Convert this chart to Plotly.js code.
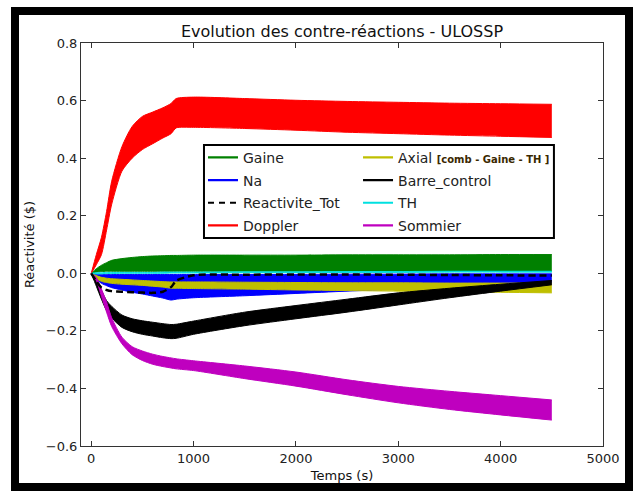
<!DOCTYPE html>
<html>
<head>
<meta charset="utf-8">
<script src="https://cdn.plot.ly/plotly-3.0.1.min.js"></script>
<style>
  html, body { margin: 0; padding: 0; background: #ffffff; }
  #wrap { position: relative; width: 633px; height: 491px; overflow: hidden; }
  #chart { position: absolute; left: 0; top: 0; width: 633px; height: 491px; }
  #frame { position: absolute; left: 11px; top: 7px; width: 622px; height: 484px;
           box-sizing: border-box; border: 8px solid #000; pointer-events: none; }
</style>
</head>
<body>
<div id="wrap">
  <div id="chart"></div>
  <div id="frame"></div>
</div>
<script>
// Time (s)
const t = [0, 50, 100, 150, 200, 300, 400, 500, 600, 700, 780, 830, 1000, 1500, 2000, 2500, 3000, 3500, 4000, 4500];

// Each series is drawn as an envelope of many runs: low / high edges
const gaineLo   = [0, 0.004, 0.006, 0.007, 0.007, 0.007, 0.007, 0.007, 0.007, 0.007, 0.007, 0.007, 0.007, 0.007, 0.007, 0.007, 0.007, 0.007, 0.007, 0.007];
const gaineHi   = [0, 0.016, 0.028, 0.037, 0.045, 0.051, 0.055, 0.058, 0.060, 0.061, 0.062, 0.062, 0.063, 0.063, 0.063, 0.064, 0.064, 0.064, 0.065, 0.065];

const naLo      = [0, -0.020, -0.035, -0.043, -0.050, -0.058, -0.066, -0.072, -0.079, -0.086, -0.093, -0.090, -0.085, -0.078, -0.070, -0.062, -0.055, -0.048, -0.042, -0.036];
const naHi      = [0, -0.003, -0.004, -0.004, -0.004, -0.004, -0.004, -0.004, -0.004, -0.004, -0.004, -0.004, -0.004, -0.004, -0.004, -0.003, -0.003, -0.002, -0.002, -0.002];

const axialLo   = [0, -0.018, -0.028, -0.032, -0.035, -0.038, -0.040, -0.042, -0.045, -0.048, -0.052, -0.052, -0.053, -0.055, -0.058, -0.060, -0.062, -0.064, -0.066, -0.068];
const axialHi   = [0, -0.008, -0.014, -0.017, -0.019, -0.021, -0.023, -0.025, -0.027, -0.029, -0.030, -0.030, -0.030, -0.031, -0.032, -0.033, -0.033, -0.034, -0.034, -0.034];

const barreLo   = [0, -0.045, -0.090, -0.130, -0.155, -0.188, -0.203, -0.212, -0.218, -0.224, -0.227, -0.226, -0.212, -0.182, -0.158, -0.135, -0.110, -0.085, -0.062, -0.040];
const barreHi   = [0, -0.025, -0.060, -0.095, -0.115, -0.145, -0.158, -0.165, -0.170, -0.175, -0.178, -0.177, -0.166, -0.135, -0.112, -0.090, -0.068, -0.052, -0.038, -0.025];

const sommierLo = [0, -0.025, -0.080, -0.135, -0.185, -0.245, -0.283, -0.303, -0.316, -0.324, -0.329, -0.332, -0.338, -0.366, -0.392, -0.422, -0.450, -0.473, -0.492, -0.510];
const sommierHi = [0, -0.015, -0.055, -0.100, -0.155, -0.222, -0.255, -0.270, -0.281, -0.289, -0.294, -0.297, -0.304, -0.322, -0.343, -0.370, -0.393, -0.410, -0.425, -0.440];

const dopplerLo = [0, 0.030, 0.065, 0.150, 0.240, 0.355, 0.400, 0.430, 0.450, 0.470, 0.485, 0.505, 0.507, 0.503, 0.497, 0.490, 0.485, 0.480, 0.476, 0.472];
const dopplerHi = [0, 0.065, 0.125, 0.215, 0.320, 0.440, 0.510, 0.545, 0.560, 0.575, 0.590, 0.607, 0.612, 0.607, 0.601, 0.597, 0.594, 0.591, 0.589, 0.587];

const thLo      = [0, -0.002, -0.002, -0.001, -0.001, 0.000, 0.000, 0.000, 0.000, 0.000, 0.001, 0.001, 0.001, 0.002, 0.002, 0.003, 0.003, 0.004, 0.004, 0.004];
const thHi      = [0, 0.002, 0.002, 0.003, 0.003, 0.003, 0.003, 0.003, 0.003, 0.004, 0.004, 0.004, 0.004, 0.005, 0.005, 0.006, 0.006, 0.007, 0.007, 0.007];

const totVals   = [0, -0.028, -0.050, -0.058, -0.062, -0.064, -0.066, -0.067, -0.068, -0.064, -0.048, -0.026, -0.007, -0.005, -0.004, -0.004, -0.005, -0.006, -0.007, -0.008];

// Legend labels
const col1Names = ['Gaine', 'Na', 'Reactivite_Tot', 'Doppler'];
const col2Names = ['Axial <span style="font-size:10px;font-weight:bold;color:#3a2800">[comb - Gaine - TH ]</span>', 'Barre_control', 'TH', 'Sommier'];

const C = {
  gaine: '#008000', na: '#0000ff', tot: '#000000', doppler: '#ff0000',
  axial: '#bfbf00', barre: '#000000', th: '#00e0e0', sommier: '#bf00bf'
};

function band(lo, hi, color, w) {
  return [
    { x: t, y: lo, mode: 'lines', line: { color: color, width: w, shape: 'spline', smoothing: 0.7 }, showlegend: false, hoverinfo: 'skip' },
    { x: t, y: hi, mode: 'lines', line: { color: color, width: w, shape: 'spline', smoothing: 0.7 }, fill: 'tonexty', fillcolor: color, showlegend: false, hoverinfo: 'skip' }
  ];
}
let gid = 0;
function leg(name, color, dash, which) {
  gid += 1;
  return { x: [null], y: [null], mode: 'lines', name: name, legend: which, legendgroup: 'g' + gid,
           line: { color: color, width: 2.2, dash: dash || 'solid' } };
}

const data = [].concat(
  band(gaineLo, gaineHi, C.gaine, 1),
  band(naLo, naHi, C.na, 1),
  band(axialLo, axialHi, C.axial, 1),
  band(barreLo, barreHi, C.barre, 1),
  band(sommierLo, sommierHi, C.sommier, 1),
  band(dopplerLo, dopplerHi, C.doppler, 1),
  band(thLo, thHi, C.th, 1),
  [{ x: t, y: totVals, mode: 'lines', line: { color: '#000000', width: 2.5, dash: '7px,4px', shape: 'spline', smoothing: 0.7 }, showlegend: false, hoverinfo: 'skip' }],
  [
    leg(col1Names[0], C.gaine, null, 'legend'),
    leg(col1Names[1], C.na, null, 'legend'),
    leg(col1Names[2], C.tot, '6px,5px', 'legend'),
    leg(col1Names[3], C.doppler, null, 'legend'),
    leg(col2Names[0], C.axial, null, 'legend2'),
    leg(col2Names[1], C.barre, null, 'legend2'),
    leg(col2Names[2], C.th, null, 'legend2'),
    leg(col2Names[3], C.sommier, null, 'legend2')
  ]
);

const FONT = 'DejaVu Sans, sans-serif';
const axisCommon = {
  showgrid: false, zeroline: false, showline: true, linecolor: '#333333', linewidth: 1,
  mirror: 'ticks', ticks: 'inside', ticklen: 5, tickcolor: '#333333',
  tickfont: { family: FONT, size: 13, color: '#222222' }
};

const legendCommon = {
  bgcolor: 'rgba(0,0,0,0)', borderwidth: 0, xanchor: 'left', yanchor: 'top',
  traceorder: 'grouped',
  font: { family: FONT, size: 14, color: '#222222' }, tracegroupgap: 1.5
};

const layout = {
  width: 633, height: 491,
  margin: { l: 81, r: 30, t: 43, b: 45, pad: 0 },
  paper_bgcolor: '#ffffff', plot_bgcolor: '#ffffff',
  title: { text: 'Evolution des contre-réactions - ULOSSP', xref: 'paper', x: 0.5, xanchor: 'center',
           yref: 'container', y: 1 - 31 / 491, yanchor: 'middle',
           font: { family: FONT, size: 16, color: '#111111' } },
  xaxis: Object.assign({}, axisCommon, {
    range: [-100, 5000], tick0: 0, dtick: 1000,
    title: { text: 'Temps (s)', standoff: 6, font: { family: FONT, size: 13, color: '#111111' } }
  }),
  yaxis: Object.assign({}, axisCommon, {
    range: [-0.6, 0.8], tick0: 0, dtick: 0.2, tickformat: '.1f',
    title: { text: 'Réactivité ($)', standoff: 8, font: { family: FONT, size: 13, color: '#111111' } }
  }),
  legend: Object.assign({}, legendCommon, { x: 0.2337, y: 0.755 }),
  legend2: Object.assign({}, legendCommon, { x: 0.5307, y: 0.755 }),
  shapes: [{
    type: 'rect', xref: 'paper', yref: 'paper', x0: 0.2356, x1: 0.906, y0: 0.516, y1: 0.747,
    line: { color: '#000000', width: 2 }, fillcolor: '#ffffff', layer: 'above'
  }],
  showlegend: true
};

Plotly.newPlot('chart', data, layout, { displayModeBar: false, staticPlot: true });
</script>
</body>
</html>
